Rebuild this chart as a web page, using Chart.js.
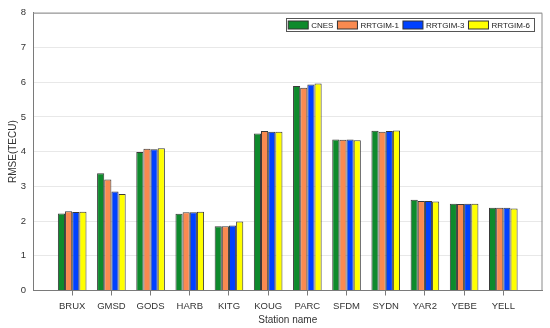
<!DOCTYPE html>
<html>
<head>
<meta charset="utf-8">
<script src="https://cdn.jsdelivr.net/npm/chart.js@4/dist/chart.umd.min.js"></script>
<style>
html,body{margin:0;padding:0;background:#fff;}
#wrap{width:550px;height:328px;position:relative;}
</style>
</head>
<body>
<div id="wrap"><canvas id="c" width="550" height="328"></canvas></div>
<script>
const categories = ['BRUX','GMSD','GODS','HARB','KITG','KOUG','PARC','SFDM','SYDN','YAR2','YEBE','YELL'];
const cnes  = [2.22, 3.38, 3.99, 2.21, 1.85, 4.52, 5.89, 4.35, 4.60, 2.61, 2.50, 2.38];
const rrt1  = [2.28, 3.20, 4.08, 2.25, 1.85, 4.59, 5.84, 4.34, 4.57, 2.58, 2.49, 2.38];
const rrt3  = [2.26, 2.85, 4.07, 2.25, 1.87, 4.57, 5.93, 4.35, 4.59, 2.58, 2.50, 2.38];
const rrt6  = [2.27, 2.78, 4.10, 2.27, 1.99, 4.57, 5.96, 4.33, 4.61, 2.56, 2.50, 2.36];
const seriesNames = ['CNES','RRTGIM-1','RRTGIM-3','RRTGIM-6'];
const yTicks = [0,1,2,3,4,5,6,7,8];

const colors = ['#0e8a2c','#f98a50','#0041ff','#ffff00'];
const series = [cnes, rrt1, rrt3, rrt6];

const boxPlugin = {
  id: 'boxAndLegend',
  afterDraw(chart) {
    const ctx = chart.ctx, a = chart.chartArea;
    ctx.save();
    ctx.strokeStyle = '#8a8a8a';
    ctx.lineWidth = 1;
    ctx.beginPath();
    ctx.moveTo(a.left, a.top + 0.5);
    ctx.lineTo(a.right - 0.5, a.top + 0.5);
    ctx.lineTo(a.right - 0.5, a.bottom);
    ctx.stroke();
    ctx.font = '8px "Liberation Sans", Arial, sans-serif';
    ctx.textBaseline = 'middle';
    const sw = 20, sh = 8, gapT = 3, gapItem = 4, padL = 2, padR = 4;
    let total = padL + padR;
    const widths = chart.data.datasets.map(d => ctx.measureText(d.label).width);
    widths.forEach((w, i) => { total += sw + gapT + w + (i < widths.length - 1 ? gapItem : 0); });
    const right = a.right - 8.5, top = 18.5, h = 13;
    const left = right - total;
    ctx.fillStyle = '#fff';
    ctx.fillRect(left, top, total, h);
    ctx.strokeStyle = '#555';
    ctx.strokeRect(Math.round(left) + 0.5, top, Math.round(total), h);
    let x = left + padL;
    const cy = top + h / 2;
    chart.data.datasets.forEach((d, i) => {
      ctx.fillStyle = d.backgroundColor;
      ctx.fillRect(x, cy - sh / 2, sw, sh);
      ctx.strokeStyle = '#333';
      ctx.strokeRect(x, cy - sh / 2, sw, sh);
      x += sw + gapT;
      ctx.fillStyle = '#222';
      ctx.fillText(d.label, x, cy + 0.5);
      x += widths[i] + gapItem;
    });
    ctx.restore();
  }
};

new Chart(document.getElementById('c'), {
  type: 'bar',
  data: {
    datasets: series.map((s, k) => ({
      label: seriesNames[k],
      data: s.map((v, i) => ({ x: i + 1, y: v })),
      backgroundColor: colors[k],
      borderColor: '#3a3a3a',
      borderWidth: 1,
      categoryPercentage: 0.73,
      barPercentage: 1.0
    }))
  },
  options: {
    responsive: false,
    animation: false,
    devicePixelRatio: 1,
    layout: { padding: { left: 0, right: 7.5, top: 8.5, bottom: 0 } },
    plugins: { legend: { display: false }, tooltip: { enabled: false } },
    scales: {
      x: {
        type: 'linear',
        min: 0,
        max: 13,
        offset: false,
        afterBuildTicks: (scale) => { scale.ticks = categories.map((c, i) => ({ value: i + 1 })); },
        afterFit: (scale) => { scale.height = 37.5; },
        ticks: {
          autoSkip: false,
          maxRotation: 0,
          padding: 5.5,
          color: '#333',
          font: { family: '"Liberation Sans", Arial, sans-serif', size: 9.5 },
          callback: (v) => categories[Math.round(v) - 1] || ''
        },
        grid: { display: true, drawOnChartArea: false, drawTicks: true, tickLength: 5, color: '#7a7a7a', offset: false },
        border: { display: true, color: '#7a7a7a' },
        title: {
          display: true, text: 'Station name', color: '#333',
          font: { family: '"Liberation Sans", Arial, sans-serif', size: 10 },
          padding: { top: 0, bottom: 1.5 }
        }
      },
      y: {
        min: 0,
        max: 8,
        afterBuildTicks: (scale) => { scale.ticks = yTicks.map(v => ({ value: v })); },
        afterFit: (scale) => { scale.width = 33; },
        ticks: {
          padding: 7,
          color: '#333',
          font: { family: '"Liberation Sans", Arial, sans-serif', size: 9.5 }
        },
        grid: { color: '#e8e8e8', drawTicks: false },
        border: { display: true, color: '#7a7a7a' },
        title: {
          display: true, text: 'RMSE(TECU)', color: '#333',
          font: { family: '"Liberation Sans", Arial, sans-serif', size: 10 },
          padding: { top: 7, bottom: 0 }
        }
      }
    }
  },
  plugins: [boxPlugin]
});
</script>
</body>
</html>
